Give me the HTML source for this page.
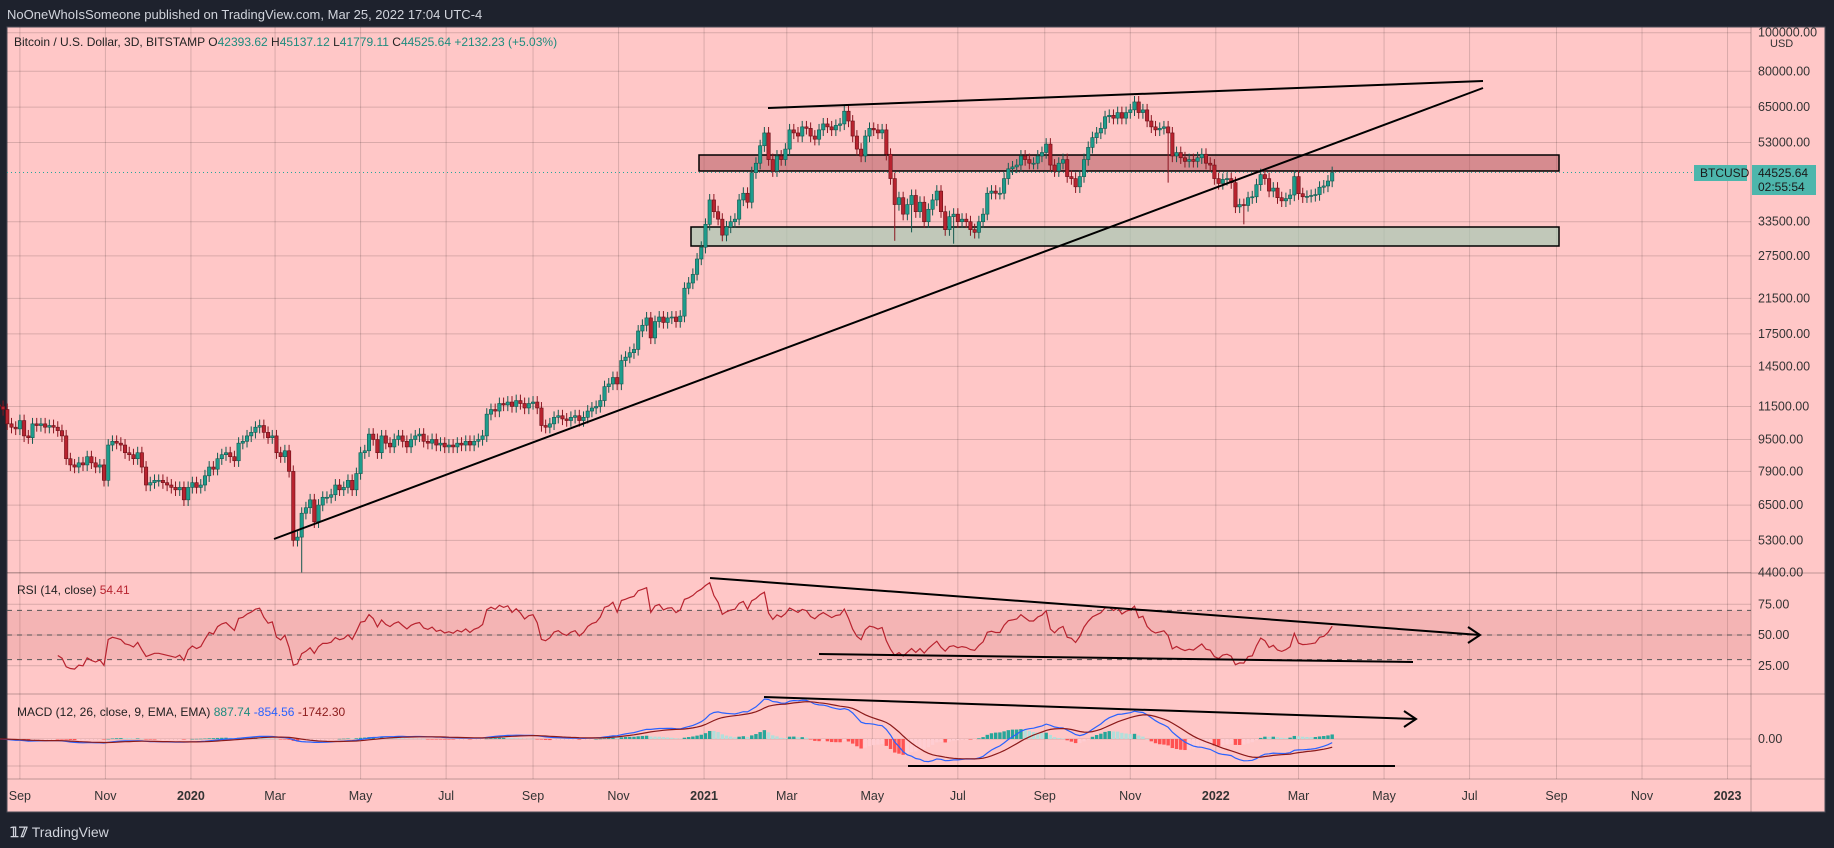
<!DOCTYPE html>
<html><head><meta charset="utf-8">
<style>
html,body{margin:0;padding:0;background:#1e222d;width:1834px;height:848px;overflow:hidden;font-family:"Liberation Sans",sans-serif}
svg{position:absolute;left:0;top:0}
</style></head>
<body>
<svg id="c" width="1834" height="848" xmlns="http://www.w3.org/2000/svg"></svg>
<script>
// ---- data ----
const startDay = -15; // days from 2019-09-01 of first 3D candle
const closes = [
11500,11300,10400,10200,10100,10600,9700,9600,
10400,10300,10400,10200,10300,10200,10000,9700,8500,8200,
8100,8300,8200,8600,8300,8100,8200,7500,9200,9400,
9300,9200,8800,8700,8500,8800,8100,7300,7400,7500,
7500,7400,7300,7200,7100,7200,6700,7200,7400,7200,
7300,7700,8100,8000,8500,8700,8800,8600,8400,9300,
9400,9700,9900,10200,10300,9900,9600,9700,8800,8600,
8900,7900,5300,5400,6200,6400,6700,5900,6500,6800,
6800,6900,7300,7100,7200,7500,7100,7800,8800,8900,
9800,9500,8800,9700,9300,9100,9500,9700,9400,9100,
9500,9700,9800,9400,9300,9500,9200,9300,9100,9200,
9100,9300,9200,9400,9200,9400,9500,9700,11000,11300,
11200,11700,11600,11800,11500,11900,11700,11400,11700,11800,
11400,10300,10200,10400,10800,10900,10700,10600,10800,10900,
10600,10800,11200,11400,11500,11900,12900,13100,13600,13100,
15000,15300,15700,16000,17800,18400,19200,17100,18800,19300,
18700,19200,19300,18800,19400,22800,23500,24700,27000,28900,
33000,38000,35500,34000,31000,32500,33500,34000,38000,39500,
37500,44500,47000,52000,56000,48000,45000,49000,48000,51000,
57000,56000,55000,58000,57500,55000,54000,57000,59000,58000,
57000,58500,59000,63500,60000,55000,51000,49000,55000,57500,
57000,56000,57000,49500,43000,37000,38500,35000,37000,39000,
35500,37500,33500,36000,38000,40000,35500,32000,34500,35000,
33500,34000,33500,32000,31500,33500,35000,39500,40000,39500,
39500,43000,45500,46000,46500,49000,48000,47000,47000,49000,
50000,52500,46500,45000,47000,48000,43500,43000,41000,43500,
48000,51500,54500,56000,57500,61500,62000,61000,63000,61000,
63000,64000,67000,63000,64000,60000,58000,57000,57500,58000,
56000,49000,50000,48500,47500,48000,47500,48500,49500,47000,
46500,43000,41800,42800,43000,42000,36500,37000,36800,38500,
38700,41500,44000,43000,40000,40700,38500,37800,38300,39100,
43500,39400,38700,38800,39000,39200,40900,41200,42400,44525.64];
// notable wick extremes: [candle index, low]
const lowIdx = [72, 213, 217, 227, 278, 296];
const lowVal = [4400, 30000, 31500, 29500, 42000, 33000];
const priceTicks = [100000,80000,65000,53000,33500,27500,21500,17500,14500,11500,9500,7900,6500,5300,4400];
const timeLabels = ["Sep","Nov","2020","Mar","May","Jul","Sep","Nov","2021","Mar","May","Jul","Sep","Nov","2022","Mar","May","Jul","Sep","Nov","2023"];
const timeDays = [0,61,122,182,243,304,366,427,488,547,608,669,731,792,853,912,973,1034,1096,1157,1218];
const rsiTicks = [75,50,25];

// ---- axes ----
const X = d => 19.9 + d*1.402;
const Y = p => 71.3 + (Math.log(80000) - Math.log(p))*172.8;
const RY = v => 635 - (v-50)*1.23;

const svg = document.getElementById('c');
const NS = 'http://www.w3.org/2000/svg';
function mk(tag, attrs, parent){const e=document.createElementNS(NS,tag);for(const k in attrs)e.setAttribute(k,attrs[k]);(parent||svg).appendChild(e);return e;}
function txt(s,x,y,attrs){const e=mk('text',Object.assign({x:x,y:y},attrs));e.textContent=s;return e;}

const bg = mk('rect',{x:7,y:27,width:1818,height:785,fill:'#ffc7c7',stroke:'#4a4a55','stroke-width':1});



const grid = mk('g',{stroke:'#000','stroke-opacity':0.15,'stroke-width':1});


timeDays.forEach(d=>mk('line',{x1:X(d),x2:X(d),y1:27,y2:779},grid));
priceTicks.forEach(p=>mk('line',{x1:7,x2:1751,y1:Y(p),y2:Y(p)},grid));
[RY(75),RY(50),RY(25)].forEach(y=>mk('line',{x1:7,x2:1751,y1:y,y2:y},grid));
mk('line',{x1:7,x2:1751,y1:739,y2:739},grid);
mk('line',{x1:7,x2:1751,y1:766,y2:766},grid);
const sep = mk('g',{stroke:'#000','stroke-opacity':0.25});


[573,694,779].forEach(y=>mk('line',{x1:7,x2:1825,y1:y,y2:y},sep));
mk('line',{x1:1751,x2:1751,y1:27,y2:812},sep);

const pa = mk('g',{'font-size':12.5,fill:'#333'});


priceTicks.forEach(p=>{const t=txt(p.toFixed(2),1758,Y(p)+4,{});pa.appendChild(t);});
const usd=txt('USD',1770,47,{'font-size':11,fill:'#333'});

const ta = mk('g',{'font-size':12.5,fill:'#333','text-anchor':'middle'});


timeLabels.forEach((l,i)=>{const t=txt(l,X(timeDays[i]),800,/^\d/.test(l)?{'font-weight':'bold'}:{});ta.appendChild(t);});

const rz=mk('rect',{x:699,y:155,width:860,height:16,fill:'#b55a60','fill-opacity':0.55,stroke:'#000','stroke-width':1.5});

const gz=mk('rect',{x:691,y:227,width:868,height:19,fill:'#a6c9b4','fill-opacity':0.7,stroke:'#000','stroke-width':1.5});


const lp = mk('line',{x1:7,x2:1694,y1:Y(closes[closes.length-1]),y2:Y(closes[closes.length-1]),stroke:'#26a69a','stroke-dasharray':'1 3'});


const cg = mk('g',{});


closes.forEach((c,i)=>{
  const o = i===0?c*1.01:closes[i-1];
  const d = startDay+3*i;
  const x = X(d);
  const up = c>=o;
  const hi = Math.max(o,c)*1.035;
  let lo = Math.min(o,c)*0.965;
  const k = lowIdx.indexOf(i); if(k>=0) lo = lowVal[k];
  const col = up?'#1e9c8c':'#b8232f';
  const w = mk('line',{x1:x,x2:x,y1:Y(hi),y2:Y(lo),stroke:up?'#14594f':'#8a1520','stroke-width':1},cg);
  
  
  const yt=Y(Math.max(o,c)), yb=Y(Math.min(o,c));
  const b = mk('rect',{x:x-1.7,y:yt,width:3.4,height:Math.max(1,yb-yt),fill:col,stroke:up?'#14594f':'#6a1018','stroke-width':0.6},cg);
  
  
});

function tl(x1,y1,x2,y2,name){const l=mk('line',{x1,y1,x2,y2,stroke:'#000','stroke-width':2});return l;}
tl(768,108,1483,81,'upper-trendline');
tl(274,539,1483,88,'rising-trendline');

function rsi(arr,n){const out=[null];let ag=0,al=0;for(let i=1;i<arr.length;i++){const ch=arr[i]-arr[i-1];const g=Math.max(ch,0),l=Math.max(-ch,0);if(i<=n){ag+=g/n;al+=l/n;}else{ag=(ag*(n-1)+g)/n;al=(al*(n-1)+l)/n;}out.push(i>=n?(al===0?100:100-100/(1+ag/al)):null);}return out;}
const rsiVals = rsi(closes,14);
const band=mk('rect',{x:7,y:RY(70),width:1744,height:RY(30)-RY(70),fill:'#c06060','fill-opacity':0.18});

[70,50,30].forEach(v=>{const l=mk('line',{x1:7,x2:1751,y1:RY(v),y2:RY(v),stroke:'#555','stroke-dasharray':'5 5','stroke-width':1});});
let pts=[];rsiVals.forEach((v,i)=>{if(v!==null)pts.push(X(startDay+3*i).toFixed(1)+','+RY(v).toFixed(1));});
const rl=mk('polyline',{points:pts.join(' '),fill:'none',stroke:'#b8232f','stroke-width':1.2});

const ra=mk('g',{'font-size':12.5,fill:'#333'});
rsiTicks.forEach(v=>ra.appendChild(txt(v.toFixed(2),1758,RY(v)+4,{})));
tl(710,578,1480,635,'rsi-upper-trendline');
tl(819,654,1413,662,'rsi-lower-trendline');
const ar1=mk('polyline',{points:'1468,627 1480,635 1468,643',fill:'none',stroke:'#000','stroke-width':2});

function ema(arr,n){const k=2/(n+1);const o=[];arr.forEach((v,i)=>o.push(i===0?v:v*k+o[i-1]*(1-k)));return o;}
const e12=ema(closes,12), e26=ema(closes,26);
const macd=e12.map((v,i)=>v-e26[i]);
const sig=ema(macd,9);
const hist=macd.map((v,i)=>v-sig[i]);
const mmax=Math.max(...macd.map(Math.abs),...sig.map(Math.abs));
const MY = v => 739 - v*(40/mmax);
const hg=mk('g',{});
hist.forEach((h,i)=>{const x=X(startDay+3*i);const prev=i?hist[i-1]:0;
  let col = h>=0?(h>=prev?'#26a69a':'#b2dfdb'):(h<prev?'#ff5252':'#ffcdd2');
  const y1=Math.min(MY(h),739), hh=Math.abs(MY(h)-739);
  const r=mk('rect',{x:x-1.7,y:y1,width:3.4,height:Math.max(hh,0.5),fill:col},hg);
  
  });
const ml=mk('polyline',{points:macd.map((v,i)=>X(startDay+3*i).toFixed(1)+','+MY(v).toFixed(1)).join(' '),fill:'none',stroke:'#2962ff','stroke-width':1.2});

const sl=mk('polyline',{points:sig.map((v,i)=>X(startDay+3*i).toFixed(1)+','+MY(v).toFixed(1)).join(' '),fill:'none',stroke:'#8b1a1a','stroke-width':1.2});

const mz=txt('0.00',1758,743,{'font-size':12.5,fill:'#333'});
tl(764,697,1416,719,'macd-upper-trendline');
tl(908,766,1395,766,'macd-lower-trendline');
const ar2=mk('polyline',{points:'1404,711 1416,719 1404,727',fill:'none',stroke:'#000','stroke-width':2});
</script>
<svg width="1834" height="848" style="pointer-events:none" xmlns="http://www.w3.org/2000/svg">
  <text x="7" y="19" font-size="13" fill="#d1d4dc">NoOneWhoIsSomeone published on TradingView.com, Mar 25, 2022 17:04 UTC-4</text>
  <text x="14" y="46" font-size="12" fill="#222">Bitcoin / U.S. Dollar, 3D, BITSTAMP  O<tspan fill="#1e8c7e">42393.62</tspan>  H<tspan fill="#1e8c7e">45137.12</tspan>  L<tspan fill="#1e8c7e">41779.11</tspan>  C<tspan fill="#1e8c7e">44525.64  +2132.23 (+5.03%)</tspan></text>
  <text x="17" y="594" font-size="12" fill="#222">RSI (14, close)  <tspan fill="#b8232f">54.41</tspan></text>
  <text x="17" y="716" font-size="12" fill="#222">MACD (12, 26, close, 9, EMA, EMA)  <tspan fill="#1e8c7e">887.74</tspan>  <tspan fill="#2962ff">-854.56</tspan>  <tspan fill="#8b1a1a">-1742.30</tspan></text>
  <g>
    <rect x="1694" y="165" width="53" height="16" fill="#4db6ac"/>
    <text x="1700" y="177" font-size="12" fill="#1a1a1a">BTCUSD</text>
  </g>
  <g>
    <rect x="1752" y="165" width="64" height="30" fill="#4db6ac"/>
    <text x="1758" y="177" font-size="12" fill="#1a1a1a">44525.64</text>
    <text x="1758" y="191" font-size="12" fill="#1a1a1a">02:55:54</text>
  </g>
  <text x="10" y="837" font-size="14" fill="#d1d4dc" font-weight="bold">𝟙𝟟 <tspan font-weight="normal">TradingView</tspan></text>
</svg>
</body></html>
